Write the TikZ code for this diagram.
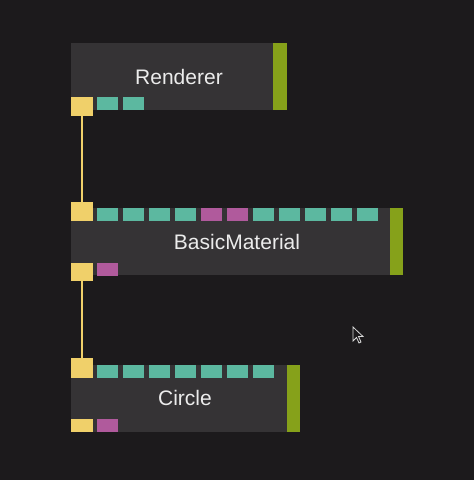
\documentclass[tikz,border=0pt]{standalone}
\usepackage{fontspec}
\setmainfont{Liberation Sans}
\definecolor{bgc}{HTML}{1C1A1C}
\definecolor{boxc}{HTML}{353335}
\definecolor{barc}{HTML}{86A11A}
\definecolor{yelc}{HTML}{F0D06A}
\definecolor{teac}{HTML}{5CB8A0}
\definecolor{magc}{HTML}{B05A9C}
\definecolor{txtc}{HTML}{ECECEC}
\tikzset{
  nodebox/.style={fill=boxc,draw=none},
  greenbar/.style={fill=barc,draw=none},
  yport/.style={fill=yelc,draw=none},
  tport/.style={fill=teac,draw=none},
  mport/.style={fill=magc,draw=none},
  title/.style={text=txtc,font=\fontsize{21}{24}\selectfont,inner sep=0pt},
  link/.style={draw=yelc,line width=1.5pt}
}
\newcommand{\tporta}[2]{\fill[tport] (#1,#2) rectangle ++(21,13);}
\newcommand{\mporta}[2]{\fill[mport] (#1,#2) rectangle ++(21,13);}
\begin{document}
\begin{tikzpicture}[x=1pt,y=-1pt]
\fill[bgc] (0,0) rectangle (474,480);
\useasboundingbox (0,0) rectangle (474,480);
% Renderer
\fill[nodebox] (71,43) rectangle (273,110);
\fill[greenbar] (273,43) rectangle (287,110);
\node[title] (rend) at (179,77) {Renderer};
\foreach \x in {97,123} {\tporta{\x}{97}}
\node[yport,minimum width=22pt,minimum height=19pt,inner sep=0pt] (rout) at (82,106.5) {};
% BasicMaterial
\fill[nodebox] (71,208) rectangle (390,275);
\fill[greenbar] (390,208) rectangle (403,275);
\node[title] (bm) at (237,242) {BasicMaterial};
\foreach \x in {97,123,149,175,253,279,305,331,357} {\tporta{\x}{208}}
\foreach \x in {201,227} {\mporta{\x}{208}}
\mporta{97}{263}
\node[yport,minimum width=22pt,minimum height=19pt,inner sep=0pt] (bmin) at (82,211.5) {};
\node[yport,minimum width=22pt,minimum height=18pt,inner sep=0pt] (bmout) at (82,272) {};
% Circle
\fill[nodebox] (71,365) rectangle (287,432);
\fill[greenbar] (287,365) rectangle (300,432);
\node[title] (circ) at (185,398) {Circle};
\foreach \x in {97,123,149,175,201,227,253} {\tporta{\x}{365}}
\mporta{97}{419}
\node[yport,minimum width=22pt,minimum height=20pt,inner sep=0pt] (cin) at (82,368) {};
\node[yport,minimum width=22pt,minimum height=13pt,inner sep=0pt] (cout) at (82,425.5) {};
% links
\draw[link] (rout.south) -- (bmin.north);
\draw[link] (bmout.south) -- (cin.north);
% cursor
\begin{scope}[shift={(353,327)}]
\draw[fill=bgc,draw=white!85!black,line width=0.8pt,line join=miter]
 (0,0) -- (0,14) -- (3.5,10.5) -- (6,16) -- (8,15) -- (5.5,9.5) -- (10,9.5) -- cycle;
\end{scope}
\end{tikzpicture}
\end{document}
